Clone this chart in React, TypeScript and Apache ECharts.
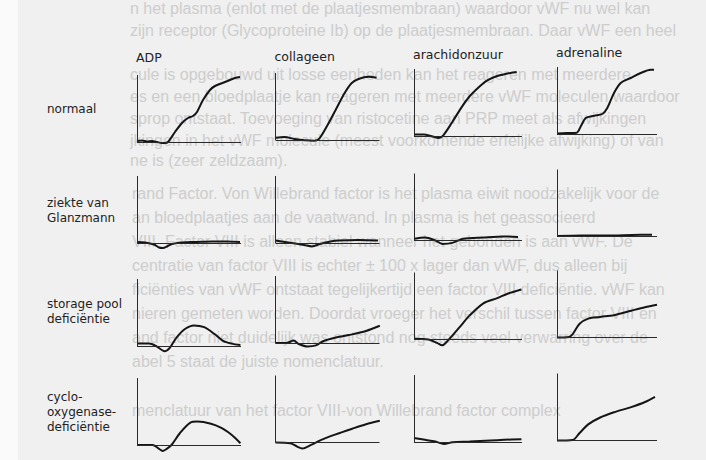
import React, { useEffect, useRef } from 'react';
import * as echarts from 'echarts';

// Column (agonist) and row (condition) labels
const agonists = ['ADP', 'collageen', 'arachidonzuur', 'adrenaline'];
const conditions = ['normaal', 'ziekte van\nGlanzmann', 'storage pool\ndeficiëntie', 'cyclo-\noxygenase-\ndeficiëntie'];

// Aggregation traces: [time offset, aggregation above baseline]
const normaalADP = [[0,1],[5,1.5],[10,0.5],[15,1],[20,0],[25,-1],[28,-1],[31,0],[38,10],[45,19],[51,24],[56,26],[60,30],[66,42],[73,52],[78,56],[88,60],[98,64],[103,65]];
const normaalCollageen = [[0,2.3],[9,3],[19,1],[29,-0.3],[39,-0.7],[44,1.7],[53,16.7],[61,31.7],[69,46.7],[76,56.7],[83,61],[93,63.3],[101,62.3]];
const normaalArachidon = [[0,1.4],[10,1.4],[16.7,0],[25,-2],[29.3,0.7],[38.3,14],[46.7,27.4],[55,39],[65,49],[73.3,55.7],[83.3,60],[93.3,62.4],[102.7,64]];
const normaalAdrenaline = [[0,0.6],[10,1],[19.7,1.3],[23.7,7.6],[28.7,16],[37,18.3],[45.3,20],[50.3,26],[57,41],[63.7,51],[73.7,56],[83.7,61],[93.7,64.3],[97,64.3]];

const glanzmannADP = [[0,1],[8,0.5],[17,-1.5],[22,-4.5],[26,-5],[30,-3.5],[35,-1],[45,0.5],[60,1],[75,1.5],[90,1.5],[103,1]];
const glanzmannCollageen = [[0,2.4],[11,0.8],[28.5,-2],[36.5,-3.4],[44.5,-1],[55,1.4],[63,2.4],[83.5,3],[102.5,2.4]];
const glanzmannArachidon = [[0,1.7],[11,3.1],[21.4,0],[28.4,-3.4],[38.4,-2.4],[49,1.7],[69.4,3.1],[90,4.1],[104,3.5]];
const glanzmannAdrenaline = [[0,0.5],[25,1],[50,1],[75,1.5],[95,1.8]];

const storageADP = [[0,2.4],[12,2.4],[19,0],[27.6,-5.2],[32.8,-1.8],[39.7,8.6],[48.3,17.2],[56.9,20.6],[67.2,18.9],[77.5,12],[86,5.2],[94.7,2.4],[103.4,1]];
const storageCollageen = [[0,0],[11,0],[18.2,2.4],[23.4,-1],[32,-3.5],[40.5,-2.4],[47.5,1.8],[59.5,5.2],[73.3,7.9],[90.5,12],[104.3,17.2]];
const storageArachidon = [[0,0.7],[14.5,0],[23,-3.4],[28.2,-5.8],[33.4,-1.6],[45.4,12.1],[55.7,24.1],[69.4,36.2],[83.3,41.4],[93.6,45.8],[107.4,50]];
const storageAdrenaline = [[0,0],[12,0.6],[15.7,3.4],[22.6,13.7],[31.2,18.9],[43.2,20.6],[57,22.3],[74.2,26.8],[88,30.3],[100,32.7]];

const cycloADP = [[0,0],[15.5,0],[25.9,-5.9],[30.4,-3.4],[34.5,0],[43,12],[53.4,22.4],[60.3,23.4],[74,21.3],[84.4,17.2],[91.3,12.7],[98.2,7],[103.4,1.7]];
const cycloCollageen = [[0,0],[14.8,-0.7],[21.7,-4.1],[26.8,-5.9],[35.5,-2.4],[45.8,2.7],[59.5,7.9],[76.8,13.8],[90.5,18.2],[104.3,21.7]];
const cycloArachidon = [[0,3.9],[11,2.2],[21.4,0.4],[30,-2],[38.4,-0.3],[55.7,0.4],[76.4,1.5],[90,2.2],[107.4,2.8]];
const cycloAdrenaline = [[0,0],[15.7,0.6],[22.6,7.5],[31.2,16.1],[43.2,23],[57,28.2],[74.2,33.4],[88,38.5],[98,43.7]];

const curves = [
  [normaalADP, normaalCollageen, normaalArachidon, normaalAdrenaline],
  [glanzmannADP, glanzmannCollageen, glanzmannArachidon, glanzmannAdrenaline],
  [storageADP, storageCollageen, storageArachidon, storageAdrenaline],
  [cycloADP, cycloCollageen, cycloArachidon, cycloAdrenaline],
];

// Show-through text from the scanned page behind the figure
const pageLinesTop = [
  'n het plasma (enlot met de plaatjesmembraan) waardoor vWF nu wel kan',
  'zijn receptor (Glycoproteine Ib) op de plaatjesmembraan. Daar vWF een heel',
  'cule is opgebouwd uit losse eenheden kan het reageren met meerdere',
  'es en een bloedplaatje kan reageren met meerdere vWF moleculen waardoor',
  'sprop ontstaat. Toevoeging van ristocetine aan PRP meet als afwijkingen',
  'jkingen in het vWF molecule (meest voorkomende erfelijke afwijking) of van',
  'ne is (zeer zeldzaam).',
];
const pageLinesBottom = [
  'rand Factor. Von Willebrand factor is het plasma eiwit noodzakelijk voor de',
  'an bloedplaatjes aan de vaatwand. In plasma is het geassocieerd',
  'VIII. Factor VIII is alleen stabiel wanneer het gebonden is aan vWF. De',
  'centratie van factor VIII is echter ± 100 x lager dan vWF, dus alleen bij',
  'ficiënties van vWF ontstaat tegelijkertijd een factor VIII deficiëntie. vWF kan',
  'nieren gemeten worden. Doordat vroeger het verschil tussen factor VIII en',
  'and factor niet duidelijk was ontstond nog steeds veel verwarring over de',
  'abel 5 staat de juiste nomenclatuur.',
];
const pageLineLast = 'menclatuur van het factor VIII-von Willebrand factor complex';

// Layout (pixels)
const COL_X = [137, 275.5, 414, 557];
const COL_W = [104, 104, 108, 100];
const BASE_Y = [[142, 140, 136, 134], [243, 243, 240.5, 236.5], [346, 343, 339.5, 337.5], [445, 442.5, 442, 440.5]];
const LABEL_Y = [57, 56, 54, 52.5];
const ROW_LABEL_TOP = [101, 195, 296, 389];
const TOP_LINE_Y = [8, 30, 74, 96, 118, 140, 160];
const AXIS_H = 67;
const DIP = 10;

export default function App() {
  const ref = useRef<HTMLDivElement>(null);
  useEffect(() => {
    if (!ref.current) return;
    const chart = echarts.init(ref.current, undefined, { renderer: 'svg' });
    const grids: any[] = [];
    const xAxes: any[] = [];
    const yAxes: any[] = [];
    const series: any[] = [];
    for (let r = 0; r < 4; r++) {
      for (let c = 0; c < 4; c++) {
        const i = r * 4 + c;
        grids.push({ left: COL_X[c], top: BASE_Y[r][c] - AXIS_H, width: COL_W[c], height: AXIS_H + DIP });
        xAxes.push({ type: 'value', gridIndex: i, min: 0, max: COL_W[c], show: false });
        yAxes.push({ type: 'value', gridIndex: i, min: -DIP, max: AXIS_H, show: false });
        series.push({
          type: 'line',
          name: conditions[r].replace(/\n/g, ' ') + ' – ' + agonists[c],
          xAxisIndex: i,
          yAxisIndex: i,
          data: curves[r][c],
          symbol: 'none',
          smooth: 0.3,
          clip: false,
          z: 3,
          lineStyle: { color: '#151515', width: 2 },
          markLine: {
            silent: true,
            symbol: ['none', 'none'],
            label: { show: false },
            lineStyle: { color: '#2a2a2a', width: 1, type: 'solid' },
            data: [
              [{ coord: [0, 0] }, { coord: [COL_W[c], 0] }],
              [{ coord: [0, 0] }, { coord: [0, AXIS_H] }],
            ],
          },
        });
      }
    }
    const bgFont = '16px "Liberation Sans", Arial, sans-serif';
    const bgFill = '#cdcdcd';
    const labelFont = '12.5px "DejaVu Sans", sans-serif';
    const graphic: any[] = [
      { type: 'rect', z: -10, shape: { x: 0, y: 0, width: 706, height: 460 }, style: { fill: '#f0f0f0' } },
      { type: 'rect', z: -9, shape: { x: 0, y: 0, width: 18, height: 460 }, style: { fill: '#fafafa' } },
    ];
    pageLinesTop.forEach((t, k) => {
      graphic.push({ type: 'text', z: -5, x: 130, y: TOP_LINE_Y[k], style: { text: t, font: bgFont, fill: bgFill, textVerticalAlign: 'middle' } });
    });
    pageLinesBottom.forEach((t, k) => {
      graphic.push({ type: 'text', z: -5, x: 132, y: 193 + k * 24, style: { text: t, font: bgFont, fill: bgFill, textVerticalAlign: 'middle' } });
    });
    graphic.push({ type: 'text', z: -5, x: 132, y: 410, style: { text: pageLineLast, font: bgFont, fill: bgFill, textVerticalAlign: 'middle' } });
    agonists.forEach((t, c) => {
      graphic.push({ type: 'text', x: COL_X[c] - 1, y: LABEL_Y[c], style: { text: t, font: labelFont, fill: '#222', textVerticalAlign: 'middle' } });
    });
    conditions.forEach((t, r) => {
      graphic.push({ type: 'text', x: 47, y: ROW_LABEL_TOP[r], style: { text: t, font: '12px "DejaVu Sans", sans-serif', fill: '#222', lineHeight: 15, textVerticalAlign: 'top' } });
    });
    chart.setOption({
      animation: false,
      backgroundColor: '#f0f0f0',
      grid: grids,
      xAxis: xAxes,
      yAxis: yAxes,
      series,
      graphic,
    });
    return () => chart.dispose();
  }, []);
  return <div ref={ref} style={{ position: 'fixed', left: 0, top: 0, width: 706, height: 460 }} />;
}
